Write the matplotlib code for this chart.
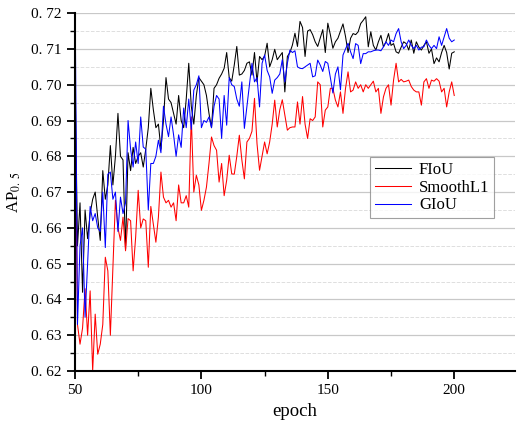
import matplotlib
matplotlib.use('Agg')
import matplotlib.pyplot as plt
from matplotlib.ticker import MultipleLocator

plt.rcParams['font.family'] = ['Liberation Serif', 'DejaVu Serif']
plt.rcParams['mathtext.fontset'] = 'stix'

# epoch axis
epochs = list(range(50, 201))

# AP0.5 per epoch
fiou = [0.705, 0.655, 0.667, 0.642, 0.665, 0.657, 0.664, 0.668, 0.670, 0.663,
        0.6565, 0.676, 0.668, 0.672, 0.683, 0.672, 0.680, 0.692, 0.680, 0.679,
        0.654, 0.681, 0.676, 0.6825, 0.678, 0.680, 0.681, 0.677, 0.682, 0.688,
        0.699, 0.693, 0.688, 0.689, 0.682, 0.690, 0.702, 0.696, 0.695, 0.692,
        0.689, 0.697, 0.690, 0.688, 0.696, 0.706, 0.694, 0.689, 0.697, 0.702,
        0.701, 0.700, 0.697, 0.692, 0.688, 0.699, 0.700, 0.7018, 0.703, 0.7046,
        0.709, 0.702, 0.701, 0.7055, 0.7107, 0.7027, 0.703, 0.704, 0.706, 0.7064,
        0.7027, 0.709, 0.7008, 0.7079, 0.707, 0.708, 0.7116, 0.705, 0.707, 0.7099,
        0.707, 0.708, 0.709, 0.698, 0.7079, 0.709, 0.7111, 0.7144, 0.7107, 0.7177,
        0.716, 0.7079, 0.715, 0.7154, 0.714, 0.712, 0.7107, 0.713, 0.7154, 0.709,
        0.7172, 0.714, 0.7102, 0.712, 0.713, 0.715, 0.717, 0.7135, 0.709, 0.713,
        0.7143, 0.714, 0.7148, 0.7171, 0.718, 0.719, 0.7106, 0.7148, 0.711, 0.7097,
        0.712, 0.7138, 0.7106, 0.712, 0.7143, 0.711, 0.7115, 0.7092, 0.7088, 0.7105,
        0.712, 0.7115, 0.7097, 0.7125, 0.7088, 0.712, 0.7105, 0.7097, 0.711, 0.712,
        0.7088, 0.710, 0.7059, 0.7075, 0.7064, 0.709, 0.711, 0.709, 0.7044, 0.7088,
        0.7092]

smoothl1 = [0.700, 0.633, 0.6275, 0.632, 0.643, 0.630, 0.6424, 0.620, 0.6359, 0.6247,
            0.6275, 0.633, 0.6518, 0.648, 0.630, 0.649, 0.6677, 0.660, 0.6565, 0.663,
            0.6536, 0.6626, 0.662, 0.648, 0.6574, 0.6705, 0.660, 0.6625, 0.662, 0.649,
            0.666, 0.661, 0.656, 0.663, 0.6756, 0.6686, 0.667, 0.6677, 0.6658, 0.667,
            0.662, 0.672, 0.667, 0.667, 0.669, 0.6658, 0.691, 0.670, 0.6747, 0.672,
            0.6649, 0.6677, 0.6714, 0.678, 0.6854, 0.683, 0.6817, 0.6728, 0.678, 0.669,
            0.6733, 0.6803, 0.6751, 0.675, 0.680, 0.6859, 0.679, 0.6737, 0.684, 0.685,
            0.687, 0.6962, 0.6835, 0.6761, 0.680, 0.684, 0.6807, 0.684, 0.689, 0.6957,
            0.6882, 0.693, 0.6958, 0.6915, 0.6873, 0.688, 0.6882, 0.6882, 0.6952, 0.689,
            0.6967, 0.689, 0.685, 0.6905, 0.690, 0.691, 0.7008, 0.700, 0.6882, 0.6929,
            0.6938, 0.699, 0.699, 0.6957, 0.6938, 0.698, 0.692, 0.699, 0.7036, 0.698,
            0.6985, 0.7008, 0.699, 0.700, 0.698, 0.700, 0.699, 0.700, 0.701, 0.698,
            0.699, 0.692, 0.6966, 0.699, 0.700, 0.6943, 0.7013, 0.706, 0.7008, 0.7015,
            0.7008, 0.701, 0.7013, 0.6995, 0.6985, 0.698, 0.698, 0.6943, 0.7008, 0.7017,
            0.699, 0.7013, 0.701, 0.7017, 0.701, 0.698, 0.699, 0.6938, 0.698, 0.7008,
            0.697]

giou = [0.73, 0.633, 0.655, 0.660, 0.635, 0.650, 0.666, 0.662, 0.664, 0.660,
        0.659, 0.670, 0.6545, 0.675, 0.6756, 0.668, 0.670, 0.659, 0.6686, 0.664,
        0.667, 0.690, 0.682, 0.677, 0.684, 0.678, 0.691, 0.6826, 0.682, 0.665,
        0.678, 0.678, 0.680, 0.6845, 0.681, 0.694, 0.689, 0.6855, 0.691, 0.686,
        0.680, 0.686, 0.6825, 0.6935, 0.688, 0.696, 0.6875, 0.6985, 0.700, 0.7025,
        0.688, 0.690, 0.6895, 0.691, 0.688, 0.694, 0.697, 0.696, 0.685, 0.697,
        0.6887, 0.702, 0.700, 0.6995, 0.696, 0.694, 0.7008, 0.6878, 0.694, 0.700,
        0.706, 0.7008, 0.702, 0.6938, 0.706, 0.7083, 0.704, 0.7022, 0.6976, 0.7013,
        0.702, 0.703, 0.707, 0.7008, 0.706, 0.7097, 0.709, 0.7095, 0.705, 0.7046,
        0.7045, 0.705, 0.7055, 0.706, 0.7022, 0.7025, 0.7069, 0.7055, 0.7037, 0.7065,
        0.706, 0.702, 0.6977, 0.703, 0.705, 0.6986, 0.7083, 0.710, 0.7116, 0.7092,
        0.7073, 0.7115, 0.711, 0.7059, 0.7087, 0.7087, 0.7092, 0.7092, 0.7095, 0.7097,
        0.7097, 0.7095, 0.7106, 0.712, 0.711, 0.7125, 0.712, 0.7143, 0.7157, 0.712,
        0.7101, 0.711, 0.7125, 0.711, 0.7101, 0.711, 0.7097, 0.7105, 0.7106, 0.7125,
        0.711, 0.7101, 0.711, 0.7101, 0.7134, 0.711, 0.7134, 0.7157, 0.713, 0.712,
        0.7125]

series_names = ['FIoU', 'SmoothL1', 'GIoU']
series_colors = ['black', 'red', 'blue']

x_ticks = [50, 100, 150, 200]
y_ticks = [0.62, 0.63, 0.64, 0.65, 0.66, 0.67, 0.68, 0.69, 0.70, 0.71, 0.72]
y_tick_labels = ['0. 62', '0. 63', '0. 64', '0. 65', '0. 66', '0. 67',
                 '0. 68', '0. 69', '0. 70', '0. 71', '0. 72']

fig = plt.figure(figsize=(5.17, 4.25), dpi=100)
ax = fig.add_axes([0.145, 0.127, 0.851, 0.842])

for vals, name, col in zip([fiou, smoothl1, giou], series_names, series_colors):
    ax.plot(epochs, vals, color=col, lw=0.75, label=name)

ax.set_xlim(50, 224)
ax.set_ylim(0.62, 0.72)
ax.set_xticks(x_ticks)
ax.xaxis.set_minor_locator(MultipleLocator(25))
ax.set_yticks(y_ticks)
ax.set_yticklabels(y_tick_labels)
ax.yaxis.set_minor_locator(MultipleLocator(0.005))

# grid: solid on major, dashed on minor
ax.grid(axis='y', which='major', color='#c8c8c8', lw=0.9, ls='-')
ax.grid(axis='y', which='minor', color='#dedede', lw=0.7, ls='--')
ax.set_axisbelow(True)

ax.spines['top'].set_visible(False)
ax.spines['right'].set_visible(False)
ax.spines['left'].set_linewidth(1.5)
ax.spines['bottom'].set_linewidth(1.5)
ax.tick_params(which='major', direction='out', length=6, width=1.3, labelsize=11)
ax.tick_params(which='minor', direction='out', length=3.5, width=1.0)

ax.set_xlabel('epoch', fontsize=13.5, labelpad=4)
ax.set_ylabel(r'AP$_{\mathrm{0.\ 5}}$', fontsize=12, labelpad=6)

leg = ax.legend(loc='upper left', bbox_to_anchor=(0.67, 0.598), borderaxespad=0,
                fancybox=False, fontsize=12, handlelength=2.2, labelspacing=0.1,
                borderpad=0.3, handletextpad=0.45)
leg.get_frame().set_edgecolor('#888888')
leg.get_frame().set_linewidth(0.8)

fig.savefig('out.png', dpi=100)
